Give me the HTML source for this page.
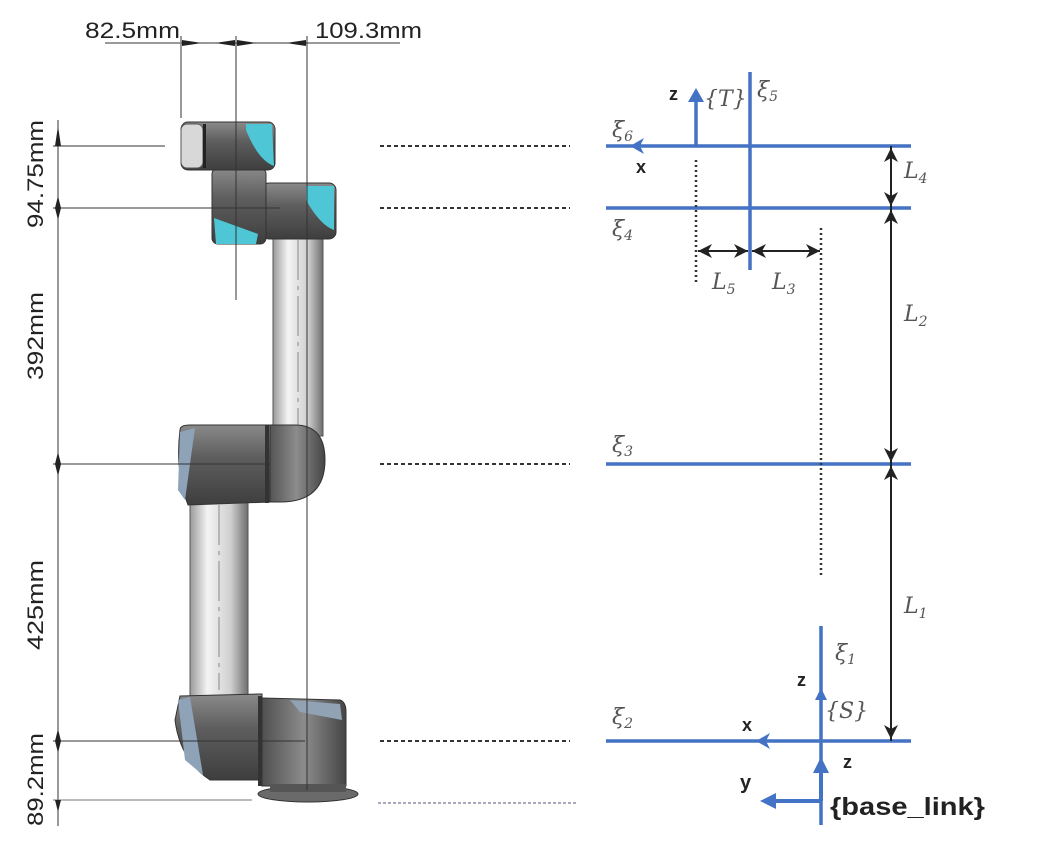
<!DOCTYPE html>
<html><head><meta charset="utf-8"><style>
html,body{margin:0;padding:0;background:#fff;}
svg{display:block;}
.t{font-family:"Liberation Sans",sans-serif;}
.m{font-family:"DejaVu Serif","Liberation Serif",serif;font-style:italic;fill:#555;}
</style></head><body>
<svg width="1062" height="853" viewBox="0 0 1062 853" xmlns="http://www.w3.org/2000/svg">
<defs>
<linearGradient id="tube" x1="0" x2="1" y1="0" y2="0">
<stop offset="0" stop-color="#9a9a9a"/><stop offset="0.3" stop-color="#f4f4f4"/><stop offset="0.7" stop-color="#d0d0d0"/><stop offset="1" stop-color="#6e6e6e"/></linearGradient>
<linearGradient id="dk" x1="0" x2="0" y1="0" y2="1">
<stop offset="0" stop-color="#8a8a8a"/><stop offset="0.4" stop-color="#5e5e5e"/><stop offset="1" stop-color="#3e3e3e"/></linearGradient>
<linearGradient id="dkh" x1="0" x2="1" y1="0" y2="0">
<stop offset="0" stop-color="#505050"/><stop offset="0.5" stop-color="#8c8c8c"/><stop offset="1" stop-color="#454545"/></linearGradient>
</defs>

<!-- Robot -->
<rect x="273" y="236" width="50" height="200" fill="url(#tube)" stroke="#555"/>
<line x1="298" y1="240" x2="298" y2="430" stroke="#888" stroke-dasharray="40,6,4,6"/>
<rect x="190" y="500" width="58" height="198" fill="url(#tube)" stroke="#555"/>
<line x1="219" y1="505" x2="219" y2="690" stroke="#888" stroke-dasharray="40,6,4,6"/>
<!-- elbow -->
<path d="M268,425 L295,425 Q325,425 325,460 Q325,502 280,502 L268,502z" fill="url(#dkh)" stroke="#333"/>
<path d="M180,430 Q180,425 190,425 L270,425 L270,502 L188,505 Q175,470 180,430z" fill="url(#dk)" stroke="#333"/>
<path d="M180,432 L195,428 L185,500 L178,490z" fill="#8ea2b8"/>
<rect x="265" y="425" width="4" height="78" fill="#333"/>
<!-- shoulder & base -->
<path d="M262,698 L340,700 Q346,702 346,712 L346,786 L262,786z" fill="url(#dkh)" stroke="#333"/>
<path d="M180,696 L258,694 L262,694 L262,780 L210,780 Q180,760 175,720z" fill="url(#dk)" stroke="#333"/>
<path d="M178,700 L190,697 L203,775 L185,760z" fill="#8ea2b8"/>
<path d="M290,700 L340,704 L342,720 L300,712z" fill="#90a2b4"/>
<rect x="258" y="696" width="4" height="90" fill="#333"/>
<ellipse cx="308" cy="794" rx="50" ry="8" fill="#6a6a6a" stroke="#333"/>
<rect x="270" y="784" width="76" height="8" fill="#555"/>
<!-- wrists -->
<rect x="262" y="183" width="74" height="56" rx="7" fill="url(#dk)" stroke="#333"/>
<path d="M306,186 L334,186 L334,230 Q320,225 306,200z" fill="#4fc6d6"/>
<rect x="212" y="168" width="54" height="76" rx="6" fill="url(#dk)" stroke="#333"/>
<path d="M214,218 L258,234 L256,244 L216,244z" fill="#4fc6d6"/>
<rect x="181" y="122" width="94" height="48" rx="7" fill="url(#dk)" stroke="#333"/>
<rect x="181" y="124" width="22" height="44" rx="6" fill="#d8d8d8" stroke="#555"/>
<path d="M246,124 L272,124 L274,166 Q258,160 246,130z" fill="#4fc6d6"/>
<rect x="203" y="124" width="3" height="44" fill="#222"/>

<!-- left dimensions -->
<g stroke="#333" stroke-width="1" fill="none">
<line x1="58" y1="120" x2="58" y2="826"/>
<line x1="53" y1="146" x2="165" y2="146"/>
<line x1="53" y1="208" x2="280" y2="208"/>
<line x1="53" y1="464" x2="270" y2="464"/>
<line x1="53" y1="741" x2="305" y2="741"/>
<line x1="53" y1="800" x2="252" y2="800" stroke="#777"/>
<line x1="181" y1="36" x2="181" y2="118"/>
<line x1="236" y1="36" x2="236" y2="300"/>
<line x1="307" y1="36" x2="307" y2="790"/>
<line x1="105" y1="43" x2="180" y2="43"/>
<line x1="181" y1="43" x2="400" y2="43"/>
</g>
<g fill="#222">
<path d="M55,146 l3,-20 l3,20z M55,208 l3,-12 l3,12z M55,208 l3,12 l3,-12z M55,464 l3,-12 l3,12z M55,464 l3,12 l3,-12z M55,741 l3,-12 l3,12z M55,741 l3,12 l3,-12z M55,800 l3,12 l3,-12z"/>
<path d="M182,40 l20,3 l-20,3z M235,40 l-20,3 l20,3z M237,40 l20,3 l-20,3z M306,40 l-20,3 l20,3z"/>
</g>
<g class="t" font-size="22" fill="#222">
<text x="85" y="38" textLength="95" lengthAdjust="spacingAndGlyphs">82.5mm</text>
<text x="315" y="38" textLength="107" lengthAdjust="spacingAndGlyphs">109.3mm</text>
<text transform="translate(43,228) rotate(-90)" textLength="108" lengthAdjust="spacingAndGlyphs">94.75mm</text>
<text transform="translate(43,380) rotate(-90)" textLength="88" lengthAdjust="spacingAndGlyphs">392mm</text>
<text transform="translate(43,650) rotate(-90)" textLength="90" lengthAdjust="spacingAndGlyphs">425mm</text>
<text transform="translate(43,826) rotate(-90)" textLength="93" lengthAdjust="spacingAndGlyphs">89.2mm</text>
</g>

<!-- dashed connectors -->
<g stroke="#333" stroke-width="2" stroke-dasharray="4,3">
<line x1="380" y1="146" x2="570" y2="146"/>
<line x1="380" y1="208" x2="570" y2="208"/>
<line x1="380" y1="464" x2="570" y2="464"/>
<line x1="380" y1="741" x2="570" y2="741"/>
</g>
<line x1="378" y1="803" x2="576" y2="803" stroke="#557" stroke-width="1" stroke-dasharray="3,2"/>

<!-- right diagram -->
<g stroke="#4472c4" stroke-width="3.5" fill="none">
<line x1="606" y1="146" x2="911" y2="146"/>
<line x1="606" y1="208" x2="911" y2="208"/>
<line x1="606" y1="464" x2="911" y2="464"/>
<line x1="606" y1="741" x2="911" y2="741"/>
<line x1="750" y1="72" x2="750" y2="270"/>
<line x1="821" y1="626" x2="821" y2="825"/>
</g>
<path d="M630,146 l14,-8 l-4,8 l4,8z" fill="#4472c4"/>
<path d="M756,741 l14,-8 l-4,8 l4,8z" fill="#4472c4"/>
<line x1="696" y1="146" x2="696" y2="98" stroke="#4472c4" stroke-width="3.5"/>
<path d="M696,88 l-8,14 l16,0z" fill="#4472c4"/>
<line x1="821" y1="741" x2="821" y2="695" stroke="#4472c4" stroke-width="3"/>
<path d="M821,688 l-6,12 l12,0z" fill="#4472c4"/>
<line x1="821" y1="801" x2="821" y2="770" stroke="#4472c4" stroke-width="4"/>
<path d="M821,757 l-8,16 l16,0z" fill="#4472c4"/>
<line x1="821" y1="801" x2="775" y2="801" stroke="#4472c4" stroke-width="4"/>
<path d="M760,801 l16,-8 l0,16z" fill="#4472c4"/>

<g stroke="#333" stroke-width="2.5" stroke-dasharray="2,3">
<line x1="696" y1="160" x2="696" y2="282"/>
<line x1="821" y1="228" x2="821" y2="575"/>
</g>
<g stroke="#222" stroke-width="2">
<line x1="891" y1="146" x2="891" y2="741"/>
<line x1="698" y1="251" x2="748" y2="251"/>
<line x1="752" y1="251" x2="820" y2="251"/>
</g>
<g fill="#222">
<path d="M891,148 l-7,14 l7,-4 l7,4z M891,206 l-7,-14 l7,4 l7,-4z M891,210 l-7,14 l7,-4 l7,4z M891,462 l-7,-14 l7,4 l7,-4z M891,466 l-7,14 l7,-4 l7,4z M891,739 l-7,-14 l7,4 l7,-4z"/>
<path d="M698,251 l14,-7 l-4,7 l4,7z M748,251 l-14,-7 l4,7 l-4,7z M752,251 l14,-7 l-4,7 l4,7z M820,251 l-14,-7 l4,7 l-4,7z"/>
</g>

<g class="t" font-weight="bold" fill="#222">
<text x="669" y="100" font-size="18">z</text>
<text x="636" y="173" font-size="18">x</text>
<text x="797" y="686" font-size="18">z</text>
<text x="742" y="731" font-size="18">x</text>
<text x="843" y="768" font-size="18">z</text>
<text x="740" y="789" font-size="20">y</text>
<text x="830" y="815" font-size="25" textLength="155" lengthAdjust="spacingAndGlyphs">{base_link}</text>
</g>
<g class="m" font-size="22">
<text x="704" y="106">{T}</text>
<text x="757" y="97">ξ<tspan font-size="14" dy="4">5</tspan></text>
<text x="612" y="137">ξ<tspan font-size="14" dy="4">6</tspan></text>
<text x="612" y="236">ξ<tspan font-size="14" dy="4">4</tspan></text>
<text x="612" y="452">ξ<tspan font-size="14" dy="4">3</tspan></text>
<text x="612" y="724">ξ<tspan font-size="14" dy="4">2</tspan></text>
<text x="835" y="660">ξ<tspan font-size="14" dy="4">1</tspan></text>
<text x="825" y="718">{S}</text>
<text x="904" y="178">L<tspan font-size="14" dy="5">4</tspan></text>
<text x="904" y="321">L<tspan font-size="14" dy="5">2</tspan></text>
<text x="904" y="613">L<tspan font-size="14" dy="5">1</tspan></text>
<text x="712" y="289">L<tspan font-size="14" dy="5">5</tspan></text>
<text x="772" y="289">L<tspan font-size="14" dy="5">3</tspan></text>
</g>
</svg>
</body></html>
